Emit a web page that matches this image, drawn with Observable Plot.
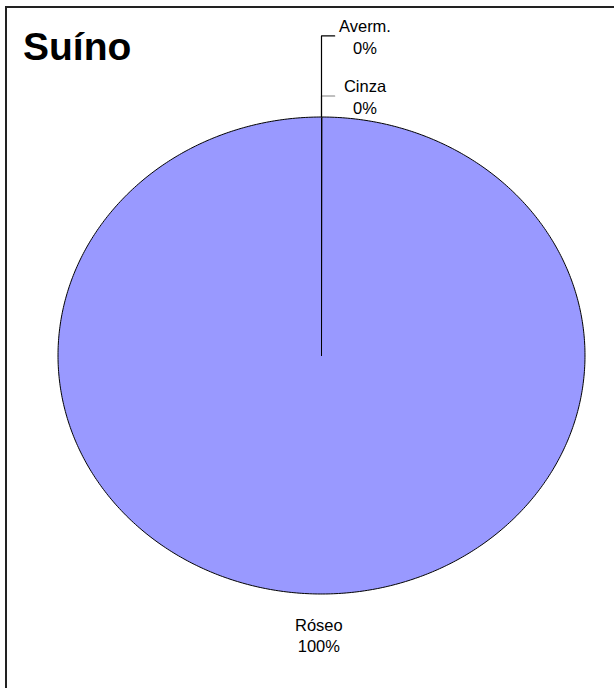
<!DOCTYPE html>
<html>
<head>
<meta charset="utf-8">
<script src="https://cdn.jsdelivr.net/npm/d3@7"></script>
<script src="https://cdn.jsdelivr.net/npm/@observablehq/plot@0.6"></script>
<style>
  html, body { margin: 0; padding: 0; background: #fff; }
  body { width: 614px; height: 688px; position: relative; overflow: hidden; font-family: "Liberation Sans", Arial, sans-serif; }
  #frame { position: absolute; left: 5px; top: 6px; width: 700px; height: 800px; border-left: 2px solid #222; border-top: 2px solid #222; }
  #title { position: absolute; left: 23px; top: 27px; font-size: 39px; font-weight: bold; color: #000; line-height: 1; }
  #chart { position: absolute; left: 0; top: 0; }
</style>
</head>
<body>
<div id="frame"></div>
<div id="chart"></div>
<div id="title">Suíno</div>
<script>
const categories = ["Averm.", "Cinza", "Róseo"];
const values = [0, 0, 100];
const percentLabels = ["0%", "0%", "100%"];
const title = "Suíno";

// pie layout (clockwise from 12 o'clock, like the source chart)
const arcs = d3.pie().sort(null).value(d => d)(values);
const pt = (a, r) => ({x: r * Math.sin(a), y: r * Math.cos(a)});

const slicePts = [];
arcs.forEach((a, i) => {
  const n = Math.max(1, Math.ceil((a.endAngle - a.startAngle) / 0.01));
  slicePts.push({cat: categories[i], ...pt(0, 0)});
  for (let k = 0; k <= n; k++) {
    const ang = a.startAngle + (a.endAngle - a.startAngle) * k / n;
    slicePts.push({cat: categories[i], ...pt(ang, 1)});
  }
});

// labels: non-zero slices outside the rim at mid angle; zero slices stacked above the top
const labelOut = 1.17;
const zeroStack = [1.34, 1.088];
const zeroDx = 0.165;
const labels = [];
const leaders = [];
let zi = 0;
arcs.forEach((a, i) => {
  const text = categories[i] + "\n" + percentLabels[i];
  if (a.value === 0) {
    const p = pt(a.startAngle, 1);
    const ly = zeroStack[zi];
    labels.push({text, x: p.x + zeroDx, y: ly});
    leaders.push({id: i, x: p.x, y: p.y});
    leaders.push({id: i, x: p.x, y: ly});
    leaders.push({id: i, x: p.x + 0.05, y: ly});
    zi++;
  } else {
    const m = (a.startAngle + a.endAngle) / 2;
    const p = pt(m, labelOut);
    labels.push({text, x: p.x - 0.01, y: p.y});
  }
});

const chart = Plot.plot({
  width: 614,
  height: 688,
  margin: 0,
  x: {domain: [-1, 1], range: [57.5, 584.5], axis: null},
  y: {domain: [-1, 1], range: [593.5, 116.5], axis: null},
  style: {fontFamily: "'Liberation Sans', Arial, sans-serif", background: "transparent"},
  marks: [
    Plot.line(slicePts, {x: "x", y: "y", z: "cat", fill: "#9999FF", stroke: "black", strokeWidth: 1, curve: "linear-closed"}),
    Plot.line(leaders.filter(d => d.id === 1), {x: "x", y: "y", stroke: "#808080", strokeWidth: 1.2}),
    Plot.line(leaders.filter(d => d.id === 0), {x: "x", y: "y", stroke: "black", strokeWidth: 1.2}),
    Plot.text(labels, {x: "x", y: "y", text: "text", fontSize: 16.5, lineHeight: 1.32, fill: "black", textAnchor: "middle"})
  ]
});
document.getElementById("chart").appendChild(chart);
document.getElementById("title").textContent = title;
</script>
</body>
</html>
